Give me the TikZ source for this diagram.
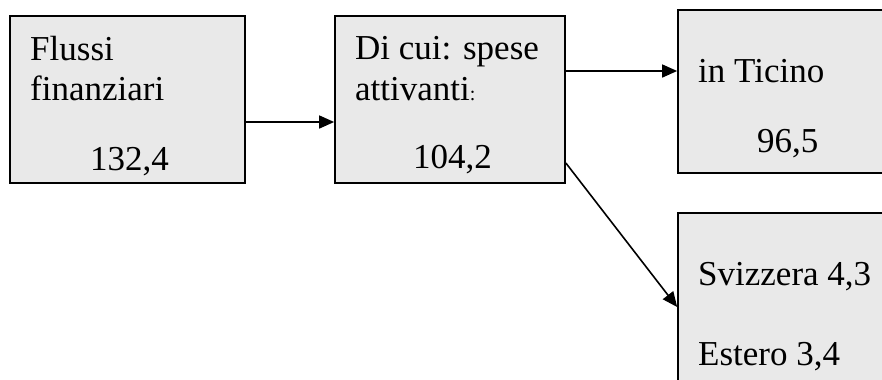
\documentclass[tikz,border=0pt]{standalone}
\usepackage{fontspec}
\setmainfont{Liberation Serif}
\usetikzlibrary{arrows.meta}
\definecolor{boxfill}{RGB}{233,233,233}
\begin{document}
\begin{tikzpicture}[x=1bp,y=-1bp,
  box/.style={draw=black,line width=1.7bp,fill=boxfill,rectangle,inner sep=0pt},
  lbl/.style={anchor=base west,inner sep=0pt,font=\fontsize{35bp}{40bp}\selectfont},
  flow/.style={line width=1.6bp,-{Triangle[length=15bp,width=13bp]}}]
\useasboundingbox (0,0) rectangle (882,379);
\clip (0,0) rectangle (882,379);

% boxes
\node[box,minimum width=235bp,minimum height=167bp] (b1) at (127.5,99.5) {};
\node[box,minimum width=230bp,minimum height=167bp] (b2) at (450,99.5) {};
\node[box,minimum width=222bp,minimum height=163bp] (b3) at (789,91.5) {};
\node[box,minimum width=222bp,minimum height=207bp] (b4) at (789,316.5) {};

% labels
\node[lbl] (t1a) at (30,60) {Flussi};
\node[lbl] (t1b) at (30,100) {finanziari};
\node[lbl] (t1c) at (90,170) {132,4};

\node[lbl] (t2a) at (355,59) {Di cui: spese};
\node[lbl] (t2b) at (355,100) {attivanti{\fontsize{20bp}{20bp}\selectfont :}};
\node[lbl] (t2c) at (413,168) {104,2};

\node[lbl] (t3a) at (698,82) {in Ticino};
\node[lbl] (t3b) at (757,152) {96,5};

\node[lbl] (t4a) at (698,285) {Svizzera 4,3};
\node[lbl] (t4b) at (698,365) {Estero 3,4};

% connectors
\draw[flow] ([yshift=-22.5bp]b1.east) -- ([yshift=-22.5bp]b2.west);
\draw[flow] ([yshift=28.5bp]b2.east) -- ([yshift=20.5bp]b3.west);
\draw[flow] ([yshift=-63.5bp]b2.east) -- ([yshift=9.5bp]b4.west);
\end{tikzpicture}
\end{document}
